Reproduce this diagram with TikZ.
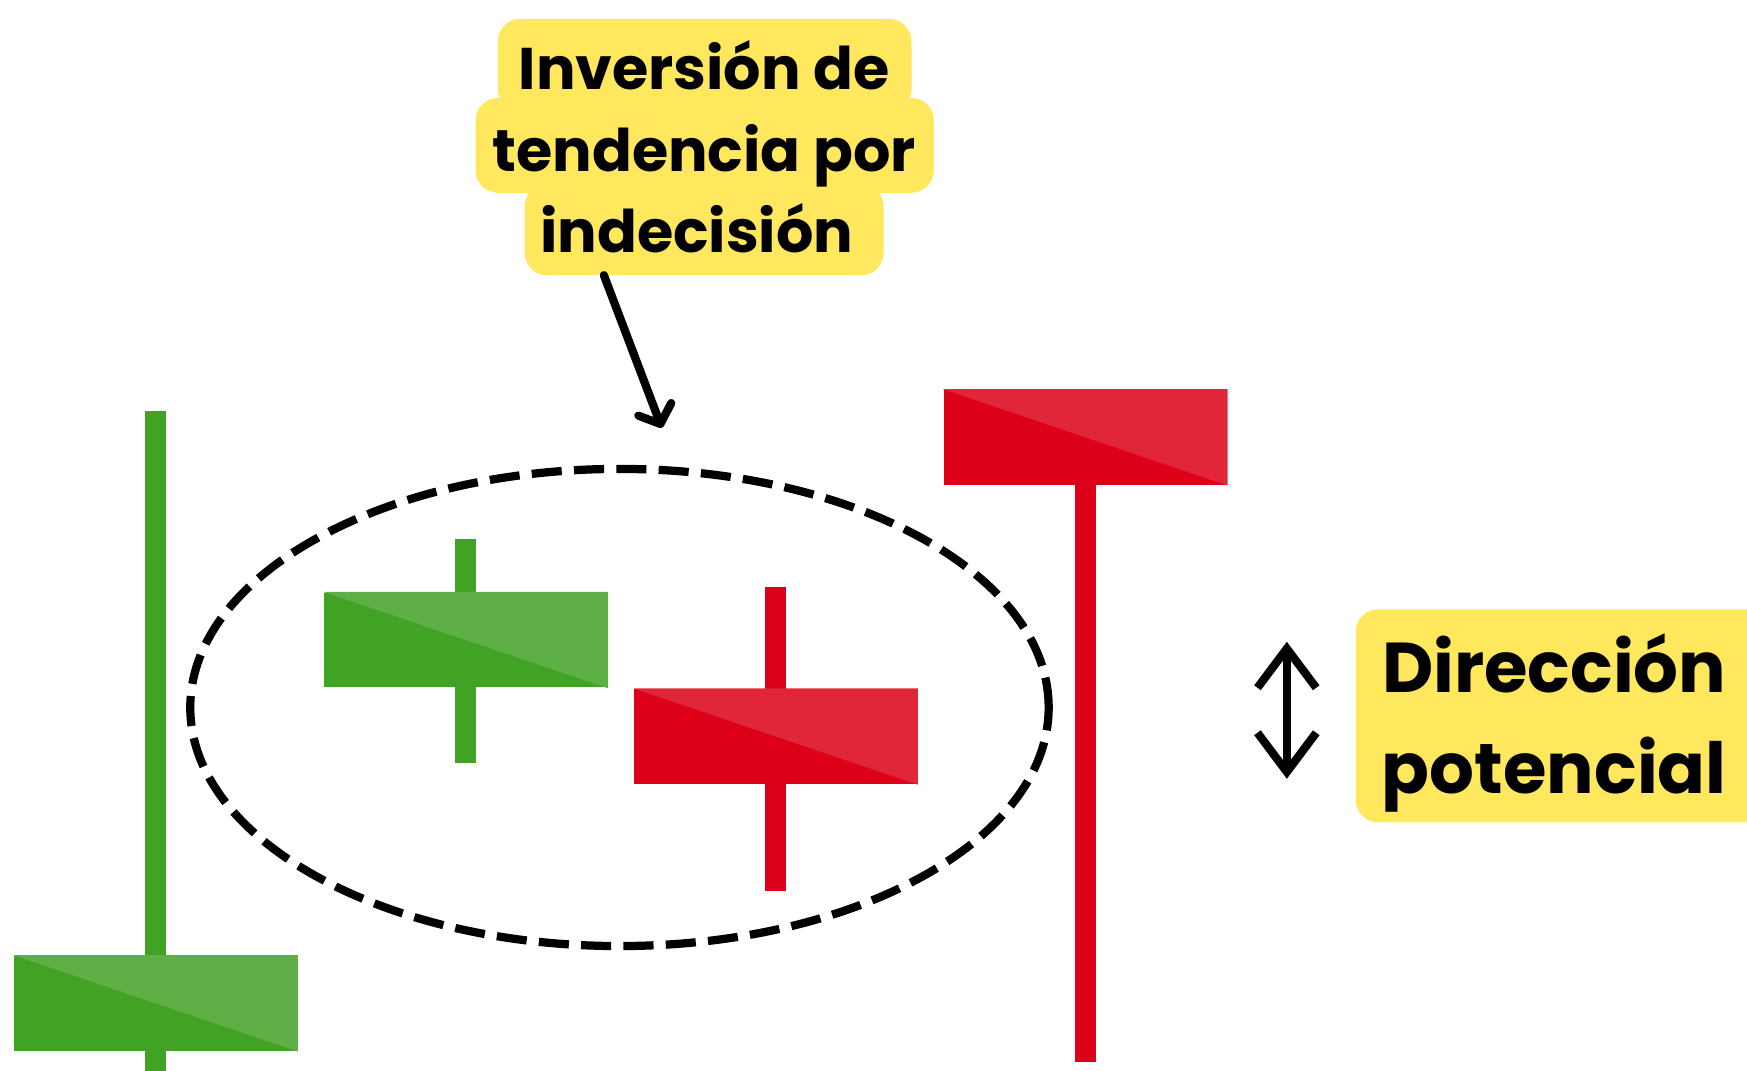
\documentclass[tikz,border=0pt]{standalone}
\usepackage{fontspec}
\setmainfont{Poppins}
\usepackage{tikz}
\usepackage{xcolor}
\usetikzlibrary{arrows.meta, calc, shapes.geometric, positioning}
\definecolor{bulldark}{HTML}{41A323}
\definecolor{bulllight}{HTML}{5EAF46}
\definecolor{beardark}{HTML}{DC0018}
\definecolor{bearlight}{HTML}{E2263A}
\definecolor{calloutyellow}{HTML}{FFE85E}
\tikzset{
    callout/.style={fill=calloutyellow, rounded corners=0.2cm, inner sep=0cm},
    wick/.style={line width=0.19cm},
}
\newcommand{\candle}[7]{
    \draw[wick, #6] (#2, #4) -- (#2, #5);
    \node[fill=#6, inner sep=0cm, minimum width=2.54cm, minimum height=0.85cm] (#1-b) at (#2, #3) {};
    \fill[#7] (#1-b.north west) -- (#1-b.north east) -- (#1-b.south east) -- cycle;
}

\begin{document}
\begin{tikzpicture}[x=0.01cm, y=-0.01cm]
    \useasboundingbox (0, 0) rectangle (1568, 961);
    \clip (0, 0) rectangle (1568, 961);

    \candle{gl}{139.5}{900.5}{369}{961}{bulldark}{bulllight}
    \candle{gm}{418}{574.5}{484}{685}{bulldark}{bulllight}
    \candle{rm}{696}{661}{527}{800}{beardark}{bearlight}
    \candle{rr}{974}{392.5}{350}{953}{beardark}{bearlight}

    \node[ellipse, draw, line width=2.1pt, dash pattern=on 0.27cm off 0.11cm,
        inner sep=0cm, minimum width=7.7cm, minimum height=4.28cm] (zone) at (556, 635) {};

    \node[callout, minimum width=3.71cm, minimum height=0.83cm] (inv-1) at (632.5, 58.5) {};
    \node[callout, minimum width=4.11cm, minimum height=0.85cm] (inv-2) at (632.5, 130.5) {};
    \node[callout, minimum width=3.22cm, minimum height=0.82cm] (inv-3) at (632, 206) {};
    \node[align=center, font={\bfseries\fontsize{15}{20.8}\selectfont}] (inv) at (632, 132)
        {Inversión de\\tendencia por\\indecisión\hspace*{0.25em}};

    \coordinate (inv-foot) at (542, 247);
    \coordinate (aim) at (594, 384);
    \draw[line width=2.1pt, line cap=round, -{Straight Barb[round, length=4pt, width=9pt]}] (inv-foot) -- (aim);

    \node[callout, minimum width=3.75cm, minimum height=1.91cm] (dir-box) at (1404.5, 642.5) {};
    \node[align=center, font={\bfseries\fontsize{18}{25.6}\selectfont}] (dir) at (1395, 649)
        {Dirección\\potencial};

    \coordinate (dir-up) at (1155, 576);
    \coordinate (dir-down) at (1155, 699);
    \draw[line width=2.1pt, {Straight Barb[length=10pt, width=15pt]}-{Straight Barb[length=10pt, width=15pt]}] (dir-up) -- (dir-down);
\end{tikzpicture}
\end{document}
